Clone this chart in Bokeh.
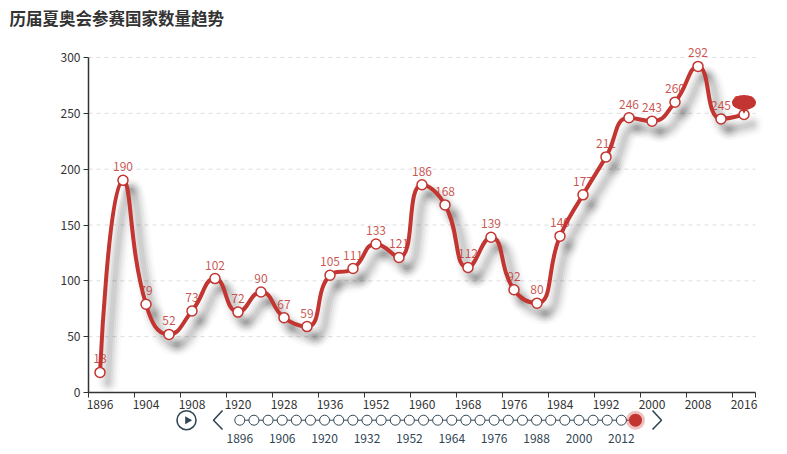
import math
from bokeh.plotting import figure
from bokeh.models import Range1d, FixedTicker, LinearAxis
from bokeh.core.properties import value
from bokeh.embed import file_html
from bokeh.resources import INLINE

title_text = "历届夏奥会参赛国家数量趋势"
years = [1896, 1900, 1904, 1906, 1908, 1912, 1920, 1924, 1928, 1932, 1936,
         1948, 1952, 1956, 1960, 1964, 1968, 1972, 1976, 1980, 1984, 1988,
         1992, 1996, 2000, 2004, 2008, 2012, 2016]
countries = [18, 190, 79, 52, 73, 102, 72, 90, 67, 59, 105,
             111, 133, 121, 186, 168, 112, 139, 92, 80, 140, 177,
             211, 246, 243, 260, 292, 245, 249]
y_ticks = [0, 50, 100, 150, 200, 250, 300]

RED = "#c23531"
DARK = "#333333"
TL = "#304654"
FONT_NAME = "Noto Sans CJK SC"
FONT = value(FONT_NAME)

W, H = 787, 454
FL, FR = 88, 755          # plot area left/right (px)
FTOP, F0 = 57, 392        # px of y=300 and y=0
n = len(years)
XS = (FR - FL) / n
YS = (F0 - FTOP) / y_ticks[-1]


def X(px):
    return (px - FL) / XS - 0.5


def Y(py):
    return (F0 - py) / YS


p = figure(width=W, height=H, x_range=Range1d(X(0), X(W)),
           y_range=Range1d(Y(H), Y(0)), output_backend="svg",
           toolbar_location=None, min_border=0, outline_line_color=None)
p.xgrid.visible = False
p.ygrid.visible = False
p.background_fill_color = "white"

xs = list(range(n))

# grid lines
p.segment(x0=[-0.5] * (len(y_ticks) - 1), x1=[n - 0.5] * (len(y_ticks) - 1),
          y0=y_ticks[1:], y1=y_ticks[1:], line_color="#dddddd",
          line_width=1, line_dash="4 4")

# y axis
ya = p.yaxis[0]
ya.fixed_location = -0.5
ya.ticker = FixedTicker(ticks=y_ticks)
ya.bounds = (y_ticks[0], y_ticks[-1])
ya.major_tick_out = 5
ya.major_tick_in = 0
ya.minor_tick_out = 0
ya.minor_tick_in = 0
ya.axis_line_color = DARK
ya.axis_line_width = 1.5
ya.major_tick_line_color = DARK
ya.major_label_text_font = FONT_NAME
ya.major_label_text_font_size = "12px"
ya.major_label_text_color = DARK
ya.major_label_standoff = 3

# x axis: line + ticks at band boundaries
xa = p.xaxis[0]
xa.fixed_location = 0
bounds_ticks = [i - 0.5 for i in range(0, n, 2)] + [n - 0.5]
xa.ticker = FixedTicker(ticks=bounds_ticks)
xa.bounds = (-0.5, n - 0.5)
xa.major_label_overrides = {t: "" for t in bounds_ticks}
xa.major_tick_out = 5
xa.major_tick_in = 0
xa.minor_tick_out = 0
xa.minor_tick_in = 0
xa.axis_line_color = DARK
xa.axis_line_width = 1.5
xa.major_tick_line_color = DARK

# x axis labels at band centres
label_idx = list(range(0, n, 2))
xl = LinearAxis(fixed_location=0, ticker=FixedTicker(ticks=label_idx),
                major_label_overrides={i: str(years[i]) for i in label_idx},
                axis_line_color=None, major_tick_line_color=None,
                minor_tick_line_color=None, major_tick_out=5,
                major_label_standoff=2, major_label_text_font=FONT_NAME,
                major_label_text_font_size="12px",
                major_label_text_color=DARK)
p.add_layout(xl, "below")


# smooth line (echarts-like bezier smoothing in pixel space)
def smooth_segments(xv, yv, smooth=0.5):
    pts = [(a * XS, b * YS) for a, b in zip(xv, yv)]
    segs = []
    cpx0, cpy0 = pts[0]
    prevX, prevY = pts[0]
    for k in range(1, len(pts)):
        x, y = pts[k]
        if k >= len(pts) - 1:
            cpx1, cpy1 = x, y
            nextCpx0, nextCpy0 = x, y
        else:
            nextX, nextY = pts[k + 1]
            vx = nextX - prevX
            vy = nextY - prevY
            lp = math.hypot(x - prevX, y - prevY)
            ln = math.hypot(nextX - x, nextY - y)
            r = ln / (ln + lp)
            nextCpx0 = x + vx * smooth * r
            nextCpy0 = y + vy * smooth * r
            nextCpx0 = max(min(nextCpx0, max(nextX, x)), min(nextX, x))
            nextCpy0 = max(min(nextCpy0, max(nextY, y)), min(nextY, y))
            vx = nextCpx0 - x
            vy = nextCpy0 - y
            cpx1 = x - vx * lp / ln
            cpy1 = y - vy * lp / ln
            cpx1 = max(min(cpx1, max(prevX, x)), min(prevX, x))
            cpy1 = max(min(cpy1, max(prevY, y)), min(prevY, y))
            vx = x - cpx1
            vy = y - cpy1
            nextCpx0 = x + vx * ln / lp
            nextCpy0 = y + vy * ln / lp
        segs.append((prevX, prevY, cpx0, cpy0, cpx1, cpy1, x, y))
        cpx0, cpy0 = nextCpx0, nextCpy0
        prevX, prevY = x, y
    d = dict(x0=[], y0=[], cx0=[], cy0=[], cx1=[], cy1=[], x1=[], y1=[])
    for s in segs:
        d["x0"].append(s[0] / XS); d["y0"].append(s[1] / YS)
        d["cx0"].append(s[2] / XS); d["cy0"].append(s[3] / YS)
        d["cx1"].append(s[4] / XS); d["cy1"].append(s[5] / YS)
        d["x1"].append(s[6] / XS); d["y1"].append(s[7] / YS)
    return d


seg = smooth_segments(xs, countries)

# shadow
sdx, sdy = 8 / XS, -10 / YS
shadow = {k: [v + (sdx if k.startswith(("x", "cx")) else sdy) for v in vals]
          for k, vals in seg.items()}
for lw, al in [(22, 0.02), (17, 0.03), (13, 0.04), (9, 0.05), (5, 0.06)]:
    p.bezier(line_color="black", line_alpha=al, line_width=lw,
             line_cap="round", **shadow)

# value labels (under the line)
p.text(x=xs, y=countries, text=[str(v) for v in countries], y_offset=-9,
       text_align="center", text_baseline="bottom", text_font=FONT,
       text_font_size="12px", text_color=RED, text_alpha=0.85)

# main line
p.bezier(line_color=RED, line_width=4, line_cap="round", **seg)

# points
p.scatter(xs, countries, marker="circle", size=10, fill_color="white",
          line_color=RED, line_width=1.5)

# highlighted last point marker
p.ellipse(x=[xs[-1]], y=[countries[-1] + 12 / YS], width=24, height=15,
          width_units="screen", height_units="screen", fill_color=RED,
          line_color=None)
p.scatter([xs[-1]], [countries[-1] + 6 / YS], marker="inverted_triangle",
          size=9, fill_color=RED, line_color=None)

# title
p.text(x=[X(9)], y=[Y(17)], text=[title_text], text_align="left",
       text_baseline="middle", text_font=FONT, text_font_size="16.5px",
       text_font_style="bold", text_color=DARK)

# timeline
ty = Y(419.7)
tl_x = [X(239.3 + i * (635 - 239.3) / (n - 1)) for i in range(n)]
p.line([tl_x[0], tl_x[-1]], [ty, ty], line_color=TL, line_width=1)
p.scatter(tl_x[:-1], [ty] * (n - 1), marker="circle", size=10,
          fill_color="white", line_color=TL, line_width=1)
p.scatter([tl_x[-1]], [ty], marker="circle", size=19, fill_color=RED,
          fill_alpha=0.3, line_color=None)
p.scatter([tl_x[-1]], [ty], marker="circle", size=13, fill_color=RED,
          line_color=None)
p.text(x=tl_x[::3], y=[Y(438)] * len(tl_x[::3]),
       text=[str(v) for v in years[::3]], text_align="center",
       text_baseline="middle", text_font=FONT, text_font_size="12px",
       text_color=TL)

# play button and arrows
p.scatter([X(186)], [ty], marker="circle", size=19, fill_color=None,
          line_color=TL, line_width=1.6)
p.scatter([X(187)], [ty], marker="triangle", angle=-math.pi / 2,
          size=8, fill_color=TL, line_color=None)
p.line([X(222), X(213), X(222)], [Y(410), ty, Y(429)], line_color=TL,
       line_width=1.6)
p.line([X(652), X(661), X(652)], [Y(410), ty, Y(429)], line_color=TL,
       line_width=1.6)

open("out.html", "w").write(file_html(p, INLINE))
